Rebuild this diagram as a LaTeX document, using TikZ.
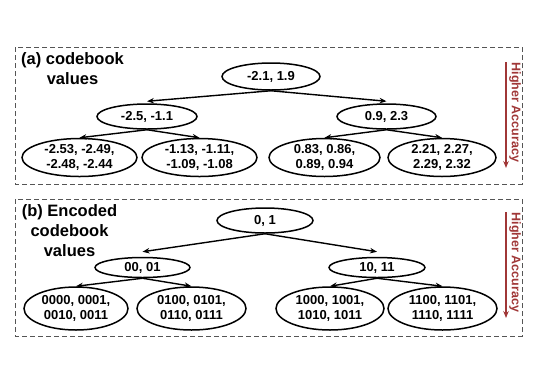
\documentclass[tikz,border=0pt]{standalone}
\usepackage{fontspec}
\setmainfont{Liberation Sans}
\usetikzlibrary{shapes.geometric,arrows.meta}
\definecolor{accred}{RGB}{160,55,55}
\definecolor{boxgray}{RGB}{85,85,85}
\begin{document}
\begin{tikzpicture}[x=1pt,y=-1pt,
  ell/.style={draw=black, line width=1.5pt, ellipse, inner sep=0pt, align=center,
    font=\bfseries\fontsize{13}{15}\selectfont},
  conn/.style={line width=1.4pt, -{Stealth[length=7pt,width=5.5pt]}},
  panel/.style={draw=boxgray, line width=1pt, dash pattern=on 5pt off 3pt},
  ttl/.style={align=center, inner sep=0pt, font=\bfseries\fontsize{16.5}{20}\selectfont},
  acc/.style={text=accred, rotate=-90, inner sep=0pt, font=\bfseries\fontsize{12.5}{14}\selectfont},
  accarrow/.style={draw=accred, line width=1.4pt, -{Stealth[length=7pt,width=5.5pt]}}
]
\useasboundingbox (0,0) rectangle (538,376);

% ---------- panel (a)
\draw[panel] (15,47) rectangle (522,184);
\node[ttl] (ta) at (72.5,68.5) {(a) codebook\\values};

\node[ell, minimum width=98pt, minimum height=27pt] (ra) at (271,76.5) {-2.1, 1.9};
\node[ell, minimum width=100pt, minimum height=25pt] (la) at (147,116.5) {-2.5, -1.1};
\node[ell, minimum width=99pt, minimum height=25pt] (rra) at (386.5,116.5) {0.9, 2.3};
\node[ell, minimum width=115pt, minimum height=38pt] (a1) at (79.5,157.5) {-2.53, -2.49,\\-2.48, -2.44};
\node[ell, minimum width=115pt, minimum height=38pt] (a2) at (199.5,157.5) {-1.13, -1.11,\\-1.09, -1.08};
\node[ell, minimum width=111pt, minimum height=38pt] (a3) at (324.5,157.5) {0.83, 0.86,\\0.89, 0.94};
\node[ell, minimum width=108pt, minimum height=38pt] (a4) at (442,157.5) {2.21, 2.27,\\2.29, 2.32};

\draw[conn] (ra.south) -- ([yshift=2pt]la.north);
\draw[conn] (ra.south) -- ([yshift=2pt]rra.north);
\draw[conn] (la.south) -- (a1.north);
\draw[conn] (la.south) -- (a2.north);
\draw[conn] (rra.south) -- (a3.north);
\draw[conn] (rra.south) -- (a4.north);

\coordinate (accAtop) at (506,62);
\coordinate (accAbot) at (506,168);
\draw[accarrow] (accAtop) -- (accAbot);
\node[acc] (accA) at (515,112.5) {Higher Accuracy};

% ---------- panel (b)
\draw[panel] (15,199) rectangle (522,336);
\node[ttl] (tb) at (69.5,231) {(b) Encoded\\codebook\\values};

\node[ell, minimum width=96pt, minimum height=25pt] (rb) at (265,220.5) {0, 1};
\node[ell, minimum width=95pt, minimum height=20pt] (lb) at (142.5,267.5) {00, 01};
\node[ell, minimum width=96pt, minimum height=20pt] (rrb) at (377,267.5) {10, 11};
\node[ell, minimum width=104pt, minimum height=43pt] (b1) at (76,308.5) {0000, 0001,\\0010, 0011};
\node[ell, minimum width=109pt, minimum height=43pt] (b2) at (191.5,308.5) {0100, 0101,\\0110, 0111};
\node[ell, minimum width=108pt, minimum height=43pt] (b3) at (330,308.5) {1000, 1001,\\1010, 1011};
\node[ell, minimum width=109pt, minimum height=43pt] (b4) at (442.5,308.5) {1100, 1101,\\1110, 1111};

\draw[conn] (rb.south) -- ([yshift=5pt]lb.north);
\draw[conn] (rb.south) -- ([yshift=5pt]rrb.north);
\draw[conn] (lb.south) -- (b1.north);
\draw[conn] (lb.south) -- (b2.north);
\draw[conn] (rrb.south) -- (b3.north);
\draw[conn] (rrb.south) -- (b4.north);

\coordinate (accBtop) at (506,212);
\coordinate (accBbot) at (506,318);
\draw[accarrow] (accBtop) -- (accBbot);
\node[acc] (accB) at (515,262.5) {Higher Accuracy};
\end{tikzpicture}
\end{document}
